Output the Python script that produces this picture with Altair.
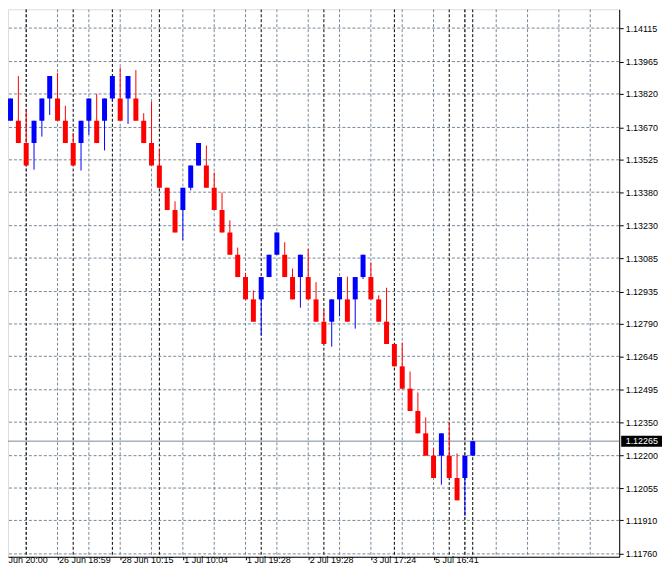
import altair as alt
import pandas as pd

# ---------------- data ----------------
opens = [1.1370, 1.1370, 1.1360, 1.1360, 1.1370, 1.1380, 1.1380, 1.1370, 1.1360, 1.1360,
         1.1370, 1.1370, 1.1370, 1.1380, 1.1380, 1.1380, 1.1380, 1.1370, 1.1360, 1.1350,
         1.1340, 1.1330, 1.1330, 1.1340, 1.1350, 1.1350, 1.1340, 1.1330, 1.1320, 1.1310,
         1.1300, 1.1290, 1.1290, 1.1300, 1.1310, 1.1310, 1.1300, 1.1300, 1.1300, 1.1290,
         1.1280, 1.1280, 1.1290, 1.1290, 1.1290, 1.1300, 1.1300, 1.1290, 1.1280, 1.1270,
         1.1260, 1.1250, 1.1240, 1.1230, 1.1220, 1.1220, 1.1220, 1.1210, 1.1210, 1.1220]
closes = [1.1380, 1.1360, 1.1350, 1.1370, 1.1380, 1.1390, 1.1370, 1.1360, 1.1350, 1.1370,
          1.1380, 1.1360, 1.1380, 1.1390, 1.1370, 1.1390, 1.1370, 1.1360, 1.1350, 1.1340,
          1.1330, 1.1320, 1.1340, 1.1350, 1.1360, 1.1340, 1.1330, 1.1320, 1.1310, 1.1300,
          1.1290, 1.1280, 1.1300, 1.1310, 1.1320, 1.1300, 1.1290, 1.1310, 1.1290, 1.1280,
          1.1270, 1.1290, 1.1300, 1.1280, 1.1300, 1.1310, 1.1290, 1.1280, 1.1270, 1.1260,
          1.1250, 1.1240, 1.1230, 1.1220, 1.1210, 1.1230, 1.1210, 1.1200, 1.1220, 1.12265]
highs = [1.1380, 1.1390, 1.13749, 1.1370, 1.1380, 1.1390, 1.13915, 1.13767, 1.13645, 1.1370,
         1.1380, 1.13820, 1.1380, 1.1390, 1.13939, 1.1390, 1.13927, 1.13734, 1.13786, 1.13574,
         1.1340, 1.13339, 1.1340, 1.1350, 1.1360, 1.13589, 1.13468, 1.13379, 1.13254, 1.13132,
         1.13019, 1.12940, 1.1300, 1.1310, 1.1320, 1.13156, 1.13038, 1.1310, 1.13126, 1.12977,
         1.12854, 1.1290, 1.1300, 1.13002, 1.1300, 1.1310, 1.13066, 1.12918, 1.12952, 1.1270,
         1.12706, 1.12577, 1.12483, 1.12371, 1.12234, 1.1230, 1.12349, 1.12210, 1.1220, 1.12265]
lows = [1.1370, 1.1360, 1.1350, 1.13481, 1.13629, 1.13726, 1.1370, 1.1360, 1.1350, 1.13477,
        1.13637, 1.1360, 1.13567, 1.13786, 1.1370, 1.13686, 1.1370, 1.1360, 1.1350, 1.1340,
        1.1330, 1.1320, 1.13165, 1.13388, 1.1350, 1.1340, 1.1330, 1.1320, 1.1310, 1.1300,
        1.1290, 1.1280, 1.12739, 1.1300, 1.1310, 1.1300, 1.1290, 1.12863, 1.1290, 1.1280,
        1.1270, 1.12688, 1.12824, 1.1280, 1.12769, 1.12991, 1.1290, 1.1280, 1.1270, 1.1260,
        1.1250, 1.1240, 1.1230, 1.1220, 1.1210, 1.12070, 1.1210, 1.1200, 1.11931, 1.1220]

price_ticks = [1.14115, 1.13965, 1.13820, 1.13670, 1.13525, 1.13380, 1.13230, 1.13085,
               1.12935, 1.12790, 1.12645, 1.12495, 1.12350, 1.12200, 1.12055, 1.11910, 1.11760]
time_idx = [6, 14, 22, 30, 38, 46, 54]
time_labels = ["26 Jun 18:59", "28 Jun 10:15", "1 Jul 10:04", "1 Jul 19:28",
               "2 Jul 19:28", "3 Jul 17:24", "5 Jul 16:41"]
first_label = "Jun 20:00"
separator_idx = [2, 8, 13, 19, 32, 40, 49, 56, 58, 59]
grid_idx = list(range(2, 78, 4))
current_price = 1.12265

# ---------------- tables ----------------
candles = pd.DataFrame({"i": list(range(len(opens))), "open": opens, "close": closes,
                        "high": highs, "low": lows})
candles["dir"] = ["up" if c >= o else "down" for o, c in zip(opens, closes)]
hgrid = pd.DataFrame({"p": price_ticks})
vgrid = pd.DataFrame({"i": grid_idx})
vsep = pd.DataFrame({"i": separator_idx})
cur = pd.DataFrame({"p": [current_price], "txt": [f"{current_price:.5f}"]})
first = pd.DataFrame({"txt": [first_label]})

FONT = "Liberation Sans"
GRID = "#778899"

x_scale = alt.Scale(domain=[0.3125, 77.0625], nice=False, zero=False)
y_scale = alt.Scale(domain=[1.117472, 1.141993], nice=False, zero=False)

label_expr = " : ".join(f"datum.value == {i} ? '{t}'" for i, t in zip(time_idx, time_labels)) + " : ''"

x_axis = alt.Axis(orient="bottom", values=time_idx, labelExpr=label_expr, title=None,
                  grid=False, domainColor="#000000", tickColor="#000000", tickSize=3,
                  labelPadding=3, labelAlign="left", labelBaseline="alphabetic", labelOffset=1,
                  labelFont=FONT, labelFontSize=9, labelColor="#000000",
                  labelFlush=False, labelOverlap=False)
y_axis = alt.Axis(orient="right", values=price_ticks, format=".5f", title=None,
                  grid=False, domainColor="#000000", tickColor="#000000", tickSize=4,
                  labelPadding=2, labelBaseline="middle", labelFont=FONT, labelFontSize=9,
                  labelColor="#000000", labelFlush=False, labelOverlap=False)

X = lambda f="i": alt.X(f"{f}:Q", scale=x_scale, axis=x_axis)
Y = lambda f="p": alt.Y(f"{f}:Q", scale=y_scale, axis=y_axis)

color = alt.Color("dir:N", scale=alt.Scale(domain=["up", "down"], range=["#0000ff", "#ff0000"]),
                  legend=None)

l_hgrid = alt.Chart(hgrid).mark_rule(color=GRID, strokeDash=[3, 2], strokeWidth=1).encode(y=Y())
l_vgrid = alt.Chart(vgrid).mark_rule(color=GRID, strokeDash=[3, 2], strokeWidth=1, clip=True).encode(x=X())
l_vsep = alt.Chart(vsep).mark_rule(color="#000000", strokeDash=[3, 2], strokeWidth=1, clip=True).encode(x=X())
l_cur = alt.Chart(cur).mark_rule(color=GRID, strokeWidth=1).encode(y=Y())

l_wick = alt.Chart(candles).mark_rule(strokeWidth=1, clip=True).encode(
    x=X(), y=Y("low"), y2="high", color=color)
l_body = alt.Chart(candles).mark_bar(width=5, clip=True, opacity=1).encode(
    x=X(), y=Y("open"), y2="close", color=color)

box_shape = "M-1,-0.27L1,-0.27L1,0.27L-1,0.27Z"
l_box = alt.Chart(cur).mark_point(shape=box_shape, filled=True, size=1681, color="#000000",
                                  opacity=1, strokeWidth=0).encode(x=alt.value(636.5), y=Y())
l_boxtxt = alt.Chart(cur).mark_text(color="#ffffff", align="left", baseline="middle",
                                    font=FONT, fontSize=9).encode(x=alt.value(620.5), y=Y(), text="txt:N")
l_first = alt.Chart(first).mark_text(color="#000000", align="left", baseline="alphabetic",
                                     font=FONT, fontSize=9).encode(
    x=alt.value(0.5), y=alt.value(556), text="txt:N")

chart = alt.layer(l_hgrid, l_vgrid, l_vsep, l_cur, l_wick, l_body, l_box, l_boxtxt, l_first).properties(
    width=614, height=550,
    autosize=alt.AutoSizeParams(type="none"),
    padding={"left": 0, "top": 0, "right": 43, "bottom": 8},
).configure_view(stroke=None).configure(background="#ffffff")

chart.save("out.html", embed_options={"renderer": "svg", "actions": False})
